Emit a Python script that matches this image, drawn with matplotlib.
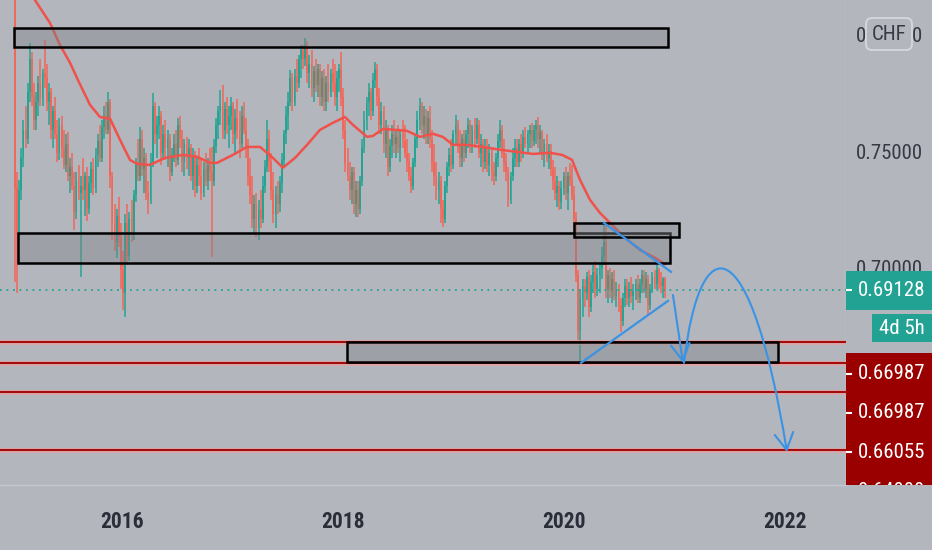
import numpy as np
import matplotlib
matplotlib.use("Agg")
import matplotlib.pyplot as plt
from matplotlib import font_manager as fm
from matplotlib.patches import Rectangle, FancyBboxPatch, FancyArrowPatch
from matplotlib.path import Path
from matplotlib.transforms import IdentityTransform

# ---------------- data (weekly candles, price x 10000) ----------------
opens = [
    8400, 7350, 7150, 7340, 7480, 7600, 7560, 7760, 7900, 7740,
    7640, 7720, 7800, 7730, 7840, 7820, 7720, 7760, 7600, 7680,
    7580, 7500, 7620, 7520, 7450, 7540, 7400, 7440, 7360, 7250,
    7380, 7330, 7360, 7340, 7400, 7260, 7370, 7430, 7350, 7490,
    7550, 7480, 7610, 7660, 7600, 7720, 7400, 7200, 7120, 7230,
    7140, 7000, 6900, 7200, 7060, 7220, 7150, 7320, 7450, 7400,
    7560, 7430, 7480, 7330, 7300, 7460, 7700, 7580, 7620, 7660,
    7500, 7580, 7520, 7560, 7420, 7490, 7540, 7470, 7620, 7560,
    7460, 7540, 7480, 7520, 7400, 7490, 7360, 7450, 7400, 7330,
    7430, 7380, 7450, 7420, 7380, 7530, 7620, 7680, 7700, 7600,
    7690, 7620, 7660, 7700, 7580, 7650, 7600, 7540, 7660, 7600,
    7520, 7400, 7320, 7220, 7280, 7180, 7260, 7220, 7360, 7440,
    7560, 7460, 7340, 7240, 7320, 7280, 7370, 7470, 7580, 7660,
    7720, 7820, 7720, 7830, 7800, 7900, 7940, 7900, 7960, 7840,
    7880, 7780, 7850, 7790, 7860, 7740, 7820, 7720, 7800, 7760,
    7840, 7800, 7740, 7820, 7860, 7740, 7600, 7460, 7400, 7340,
    7420, 7280, 7340, 7260, 7380, 7520, 7640, 7720, 7760, 7680,
    7810, 7860, 7740, 7620, 7680, 7540, 7600, 7440, 7530, 7580,
    7540, 7570, 7520, 7580, 7550, 7500, 7460, 7400, 7360, 7460,
    7560, 7640, 7700, 7620, 7660, 7580, 7650, 7560, 7460, 7400,
    7340, 7380, 7260, 7220, 7360, 7440, 7490, 7450, 7580, 7620,
    7540, 7480, 7560, 7500, 7580, 7620, 7540, 7600, 7560, 7620,
    7500, 7540, 7460, 7520, 7450, 7500, 7420, 7400, 7480, 7550,
    7600, 7500, 7460, 7420, 7300, 7400, 7480, 7520, 7460, 7540,
    7500, 7570, 7540, 7580, 7600, 7550, 7600, 7620, 7560, 7590,
    7500, 7540, 7480, 7510, 7430, 7380, 7330, 7360, 7290, 7350,
    7400, 7330, 7400, 7380, 7320, 7220, 6980, 6740, 6880, 6930,
    6900, 6970, 6840, 6950, 6990, 6920, 6980, 7010, 7060, 7120,
    6920, 6980, 6910, 6960, 6890, 6920, 6850, 6780, 6880, 6930,
    6880, 6920, 6890, 6910, 6940, 6880, 6940, 6980, 6920, 6960,
    6850, 6920, 6970, 6940, 7000, 6950, 6930, 6960,
]
highs = [
    8450, 7420, 7385, 7520, 7640, 7700, 7800, 7970, 7930, 7800,
    7760, 7830, 7900, 7860, 7985, 7880, 7800, 7780, 7700, 7740,
    7640, 7650, 7660, 7600, 7580, 7590, 7480, 7500, 7420, 7420,
    7450, 7400, 7480, 7420, 7440, 7400, 7460, 7480, 7520, 7580,
    7620, 7640, 7700, 7720, 7760, 7730, 7420, 7280, 7260, 7310,
    7200, 7080, 7240, 7280, 7250, 7300, 7340, 7480, 7560, 7610,
    7600, 7520, 7500, 7380, 7500, 7756, 7720, 7660, 7700, 7680,
    7620, 7640, 7600, 7580, 7520, 7580, 7600, 7650, 7660, 7600,
    7560, 7570, 7560, 7540, 7520, 7510, 7480, 7520, 7470, 7460,
    7500, 7480, 7520, 7526, 7560, 7650, 7700, 7769, 7791, 7720,
    7740, 7700, 7740, 7720, 7690, 7730, 7680, 7700, 7720, 7650,
    7560, 7480, 7400, 7320, 7330, 7300, 7340, 7400, 7470, 7640,
    7600, 7500, 7420, 7360, 7380, 7400, 7500, 7600, 7700, 7760,
    7855, 7840, 7860, 7900, 7920, 7960, 7960, 7990, 7980, 7920,
    7940, 7870, 7900, 7880, 7880, 7850, 7860, 7830, 7880, 7860,
    7900, 7880, 7850, 7880, 7932, 7780, 7640, 7520, 7460, 7440,
    7440, 7380, 7380, 7400, 7560, 7680, 7740, 7800, 7780, 7840,
    7889, 7880, 7780, 7720, 7700, 7640, 7620, 7560, 7620, 7640,
    7600, 7620, 7600, 7640, 7620, 7560, 7500, 7440, 7480, 7580,
    7680, 7735, 7720, 7700, 7690, 7680, 7700, 7600, 7540, 7460,
    7420, 7400, 7300, 7380, 7460, 7520, 7560, 7600, 7662, 7640,
    7600, 7580, 7600, 7600, 7650, 7640, 7620, 7650, 7650, 7640,
    7580, 7560, 7560, 7560, 7540, 7520, 7460, 7500, 7580, 7640,
    7620, 7560, 7500, 7440, 7420, 7520, 7560, 7560, 7560, 7580,
    7600, 7610, 7600, 7620, 7630, 7620, 7640, 7654, 7620, 7600,
    7560, 7580, 7540, 7540, 7470, 7440, 7400, 7380, 7380, 7420,
    7440, 7420, 7458, 7450, 7360, 7250, 7000, 6920, 6960, 6960,
    6990, 7000, 6980, 7020, 7040, 7010, 7030, 7100, 7201, 7201,
    7000, 7010, 6990, 7000, 6950, 6940, 6880, 6900, 6960, 6960,
    6950, 6970, 6940, 6960, 6980, 6960, 7000, 7000, 6990, 6980,
    6940, 6990, 7000, 7021, 7010, 6990, 6970, 6970,
]
lows = [
    6950, 6900, 7130, 7300, 7440, 7520, 7540, 7720, 7700, 7600,
    7600, 7660, 7700, 7700, 7780, 7680, 7620, 7560, 7520, 7560,
    7460, 7470, 7480, 7430, 7420, 7380, 7330, 7340, 7170, 7220,
    7300, 6970, 7300, 7230, 7210, 7240, 7330, 7320, 7330, 7440,
    7460, 7460, 7560, 7580, 7580, 7350, 7130, 7080, 7050, 7100,
    6920, 6830, 6800, 7020, 7040, 7120, 7130, 7290, 7380, 7380,
    7400, 7330, 7300, 7240, 7280, 7440, 7540, 7480, 7560, 7450,
    7480, 7470, 7440, 7380, 7400, 7460, 7440, 7450, 7520, 7420,
    7400, 7430, 7400, 7380, 7340, 7310, 7330, 7360, 7300, 7310,
    7360, 7340, 7380, 7056, 7360, 7500, 7560, 7620, 7560, 7560,
    7580, 7520, 7600, 7540, 7500, 7560, 7480, 7520, 7580, 7480,
    7360, 7280, 7180, 7160, 7140, 7129, 7180, 7200, 7330, 7420,
    7420, 7300, 7200, 7180, 7240, 7250, 7330, 7440, 7540, 7600,
    7700, 7680, 7700, 7760, 7780, 7820, 7860, 7870, 7800, 7780,
    7740, 7720, 7760, 7740, 7700, 7700, 7680, 7680, 7720, 7740,
    7760, 7700, 7680, 7760, 7700, 7560, 7420, 7380, 7300, 7280,
    7240, 7226, 7226, 7240, 7360, 7500, 7600, 7660, 7640, 7660,
    7780, 7700, 7580, 7580, 7500, 7480, 7400, 7420, 7480, 7500,
    7480, 7500, 7460, 7520, 7480, 7420, 7380, 7330, 7340, 7440,
    7520, 7600, 7580, 7560, 7540, 7540, 7520, 7420, 7360, 7300,
    7280, 7200, 7184, 7200, 7330, 7400, 7420, 7430, 7540, 7500,
    7440, 7440, 7460, 7480, 7520, 7500, 7500, 7520, 7540, 7480,
    7440, 7420, 7430, 7420, 7400, 7380, 7363, 7380, 7440, 7520,
    7480, 7420, 7380, 7270, 7280, 7380, 7440, 7440, 7440, 7460,
    7480, 7520, 7500, 7520, 7520, 7530, 7540, 7520, 7500, 7470,
    7440, 7460, 7430, 7400, 7340, 7300, 7270, 7256, 7260, 7320,
    7300, 7256, 7360, 7300, 7180, 6950, 6700, 6604, 6800, 6840,
    6870, 6800, 6820, 6900, 6880, 6890, 6900, 6960, 7020, 6880,
    6860, 6880, 6860, 6870, 6840, 6820, 6735, 6760, 6840, 6850,
    6840, 6860, 6830, 6870, 6860, 6860, 6900, 6900, 6880, 6808,
    6830, 6900, 6920, 6920, 6920, 6900, 6880, 6880,
]
closes = [
    7350, 7150, 7340, 7480, 7600, 7560, 7760, 7900, 7740, 7640,
    7720, 7800, 7730, 7840, 7820, 7720, 7760, 7600, 7680, 7580,
    7500, 7620, 7520, 7450, 7540, 7400, 7440, 7360, 7250, 7380,
    7330, 7360, 7340, 7400, 7260, 7370, 7430, 7350, 7490, 7550,
    7480, 7610, 7660, 7600, 7720, 7400, 7200, 7120, 7230, 7140,
    7000, 6900, 7200, 7060, 7220, 7150, 7320, 7450, 7400, 7560,
    7430, 7480, 7330, 7300, 7460, 7700, 7580, 7620, 7660, 7500,
    7580, 7520, 7560, 7420, 7490, 7540, 7470, 7620, 7560, 7460,
    7540, 7480, 7520, 7400, 7490, 7360, 7450, 7400, 7330, 7430,
    7380, 7450, 7420, 7380, 7530, 7620, 7680, 7700, 7600, 7690,
    7620, 7660, 7700, 7580, 7650, 7600, 7540, 7660, 7600, 7520,
    7400, 7320, 7220, 7280, 7180, 7260, 7220, 7360, 7440, 7560,
    7460, 7340, 7240, 7320, 7280, 7370, 7470, 7580, 7660, 7720,
    7820, 7720, 7830, 7800, 7900, 7940, 7900, 7960, 7840, 7880,
    7780, 7850, 7790, 7860, 7740, 7820, 7720, 7800, 7760, 7840,
    7800, 7740, 7820, 7860, 7740, 7600, 7460, 7400, 7340, 7420,
    7280, 7340, 7260, 7380, 7520, 7640, 7720, 7760, 7680, 7810,
    7860, 7740, 7620, 7680, 7540, 7600, 7440, 7530, 7580, 7540,
    7570, 7520, 7580, 7550, 7500, 7460, 7400, 7360, 7460, 7560,
    7640, 7700, 7620, 7660, 7580, 7650, 7560, 7460, 7400, 7340,
    7380, 7260, 7220, 7360, 7440, 7490, 7450, 7580, 7620, 7540,
    7480, 7560, 7500, 7580, 7620, 7540, 7600, 7560, 7620, 7500,
    7540, 7460, 7520, 7450, 7500, 7420, 7400, 7480, 7550, 7600,
    7500, 7460, 7420, 7300, 7400, 7480, 7520, 7460, 7540, 7500,
    7570, 7540, 7580, 7600, 7550, 7600, 7620, 7560, 7590, 7500,
    7540, 7480, 7510, 7430, 7380, 7330, 7360, 7290, 7350, 7400,
    7330, 7400, 7380, 7320, 7220, 6980, 6740, 6880, 6930, 6900,
    6970, 6840, 6950, 6990, 6920, 6980, 7010, 7060, 7120, 6920,
    6980, 6910, 6960, 6890, 6920, 6850, 6780, 6880, 6930, 6880,
    6920, 6890, 6910, 6940, 6880, 6940, 6980, 6920, 6960, 6850,
    6920, 6970, 6940, 7000, 6950, 6930, 6960, 6913,
]

# moving average (week index, price x 10000)
ma_week = [4, 9.4, 16.5, 21.2, 26, 29.7, 35.4, 40.1, 44.9, 49.6,
           54.3, 57.6, 63.7, 70.8, 79.3, 85.9, 92, 95.4, 102.9, 109.5,
           115.7, 121.8, 126.5, 132.2, 137.9, 144, 150.1, 155.8, 159.6, 166.2,
           169, 173.7, 179.4, 185, 191.2, 197.4, 202, 206.8, 212.9, 221,
           229, 237, 244.6, 252.6, 258.3, 263, 266.8, 271.5, 276.2, 281.9,
           288, 295.1, 302.2, 307]
ma_vals = [8230, 8154, 8056, 7962, 7885, 7812, 7706, 7654, 7646, 7556,
           7470, 7454, 7449, 7479, 7492, 7484, 7458, 7458, 7492, 7526,
           7526, 7479, 7437, 7479, 7535, 7599, 7629, 7654, 7620, 7569,
           7573, 7603, 7599, 7595, 7569, 7582, 7569, 7535, 7535, 7526,
           7514, 7505, 7496, 7501, 7492, 7471, 7385, 7300, 7244, 7193,
           7138, 7086, 7052, 7025]

# supply / demand zones (years, price)
zone_x0 = [2015.023, 2015.059, 2020.090, 2018.036]
zone_x1 = [2020.941, 2020.959, 2021.041, 2021.937]
zone_lo = [0.7953, 0.7030, 0.7141, 0.6607]
zone_hi = [0.8034, 0.7158, 0.7201, 0.6692]

# horizontal support levels
levels = [0.6692, 0.6603, 0.6479, 0.6231]

# trend lines and projection
desc_x, desc_y = [2020.362, 2020.968], [0.7201, 0.6992]
asc_x, asc_y = [2020.154, 2020.941], [0.6603, 0.6868]
drop_x, drop_y = [2020.986, 2021.077], [0.6893, 0.6603]
arc_x = [2021.086, 2021.231, 2021.683, 2022.018]
arc_y = [0.6603, 0.7192, 0.7192, 0.6222]

last_price = 0.69128
price_ticks = [0.80, 0.75, 0.70]
price_tick_labels = ["0.80000", "0.75000", "0.70000"]
level_label_prices = [0.6556, 0.6389, 0.6222, 0.6052]
level_label_texts = ["0.66987", "0.66987", "0.66055", "0.64000"]
year_ticks = [2016, 2018, 2020, 2022]
year_labels = ["2016", "2018", "2020", "2022"]
countdown = "4d 5h"
currency = "CHF"

# ---------------- fonts: prefer a narrow sans if installed ----------------
preferred = ["Roboto Condensed", "Liberation Sans Narrow", "Noto Sans Condensed",
             "DejaVu Sans Condensed", "Open Sans Condensed"]
installed = {f.name for f in fm.fontManager.ttflist}
narrow = [n for n in preferred if n in installed]
if narrow:
    FONT = [narrow[0], "Roboto", "DejaVu Sans"]
    FS = 15
else:
    FONT = ["Roboto", "DejaVu Sans"]
    FS = 14
TXT = dict(fontfamily=FONT)

# ---------------- style ----------------
W, H = 932, 550
BG = "#b3b6bd"
TEAL = "#25a494"
CRED = "#f0675b"
MA_C = "#f0514a"
BLUE = "#3a93e4"
LVL = "#a30d0d"
YMIN, YMAX = 0.6081, 0.8154
XMIN, XMAX = 2014.896, 2022.552
START, WPY = 2015.032, 52.18

fig = plt.figure(figsize=(W / 100, H / 100), dpi=100, facecolor=BG)
ax = fig.add_axes([0, 65 / H, 846 / W, 485 / H], facecolor=BG)
ax2 = fig.add_axes([846 / W, 65 / H, 86 / W, 485 / H], facecolor=BG)

ax.set_xlim(XMIN, XMAX)
ax.set_ylim(YMIN, YMAX)

o = np.array(opens) / 1e4
h = np.array(highs) / 1e4
l = np.array(lows) / 1e4
c = np.array(closes) / 1e4
t = START + np.arange(len(c)) / WPY
cols = np.where(c >= o, TEAL, CRED)

ax.vlines(t, l, h, colors=cols, lw=1.1, zorder=2)
body_lo = np.minimum(o, c)
body_h = np.maximum(np.abs(c - o), 0.0004)
ax.bar(t, body_h, bottom=body_lo, width=0.0165, color=cols, lw=0, zorder=2)

ax.plot(START + np.array(ma_week) / WPY, np.array(ma_vals) / 1e4,
        color=MA_C, lw=1.8, zorder=3, solid_capstyle="round",
        solid_joinstyle="round")

# levels
for lv in levels:
    ax.axhline(lv, color="#e9a3a3", lw=3.6, alpha=0.75, zorder=3)
    ax.axhline(lv, color=LVL, lw=1.5, zorder=3.1)

# zones
for x0, x1, lo, hi in zip(zone_x0, zone_x1, zone_lo, zone_hi):
    ax.add_patch(Rectangle((x0, lo), x1 - x0, hi - lo,
                           facecolor=(0.50, 0.51, 0.53, 0.42),
                           edgecolor="black", lw=1.8, zorder=4))

# last price dotted line
ax.axhline(last_price, color=TEAL, lw=1.3, ls=(0, (1, 2.6)), zorder=3)

# trend lines
ax.plot(desc_x, desc_y, color=BLUE, lw=1.6, zorder=5)
ax.plot(asc_x, asc_y, color=BLUE, lw=1.6, zorder=5)
astyle = "->,head_length=0.5,head_width=0.28"
ax.add_patch(FancyArrowPatch((drop_x[0], drop_y[0]), (drop_x[1], drop_y[1]),
                             arrowstyle=astyle, mutation_scale=24, color=BLUE,
                             lw=1.5, shrinkA=0, shrinkB=0, zorder=5))
arc_path = Path(list(zip(arc_x, arc_y)),
                [Path.MOVETO, Path.CURVE4, Path.CURVE4, Path.CURVE4])
ax.add_patch(FancyArrowPatch(path=arc_path, arrowstyle=astyle,
                             mutation_scale=24, color=BLUE, lw=1.5, zorder=5))

# main axes cosmetics
ax.set_yticks([])
ax.set_xticks(year_ticks)
ax.set_xticklabels(year_labels, fontsize=FS + 0.5, fontweight="bold",
                   color="#2a2e39", **TXT)
ax.tick_params(axis="x", length=0, pad=19)
for s in ["top", "left"]:
    ax.spines[s].set_visible(False)
for s in ["bottom", "right"]:
    ax.spines[s].set_color("#c5c8ce")
    ax.spines[s].set_linewidth(1)

# right price scale
ax2.set_xlim(0, 1)
ax2.set_ylim(YMIN, YMAX)
ax2.set_xticks([])
ax2.set_yticks([])
for s in ax2.spines.values():
    s.set_visible(False)

for p, lab in zip(price_ticks, price_tick_labels):
    ax2.text(0.51, p, lab, ha="center", va="center", fontsize=FS,
             color="#363a45", zorder=1, **TXT)

# last price tag
ax2.add_patch(Rectangle((0, last_price - 0.0083), 1, 0.0166,
                        facecolor="#22a293", edgecolor="none", zorder=3))
ax2.text(0.53, last_price, "0.69128", ha="center", va="center", fontsize=FS,
         color="white", zorder=4, **TXT)
ax2.plot([0, 0.06], [last_price, last_price], color="white", lw=1.5, zorder=4)

# countdown tag
ax2.add_patch(Rectangle((0.30, 0.6692), 0.70, 0.0120,
                        facecolor="#22a293", edgecolor="none", zorder=3))
ax2.text(0.65, 0.6752, countdown, ha="center", va="center", fontsize=FS,
         color="white", zorder=4, **TXT)

# level tags
ax2.add_patch(Rectangle((0, YMIN), 1, 0.66453 - YMIN,
                        facecolor="#9a0000", edgecolor="none", zorder=3))
for p, lab in zip(level_label_prices, level_label_texts):
    ax2.text(0.53, p, lab, ha="center", va="center", fontsize=FS,
             color="white", zorder=4, clip_on=True, **TXT)
    ax2.plot([0, 0.06], [p, p], color="white", lw=1.5, zorder=4)

# currency badge
fig.add_artist(FancyBboxPatch((866, H - 50), 46, 32,
                              boxstyle="round,pad=0,rounding_size=6",
                              transform=IdentityTransform(),
                              facecolor=BG, edgecolor="#d6d8dd", lw=1.3,
                              zorder=5))
fig.text(889 / W, (H - 34) / H, currency, ha="center", va="center",
         fontsize=FS, color="#363a45", zorder=6, **TXT)

fig.savefig("out.png", dpi=100, facecolor=BG)
